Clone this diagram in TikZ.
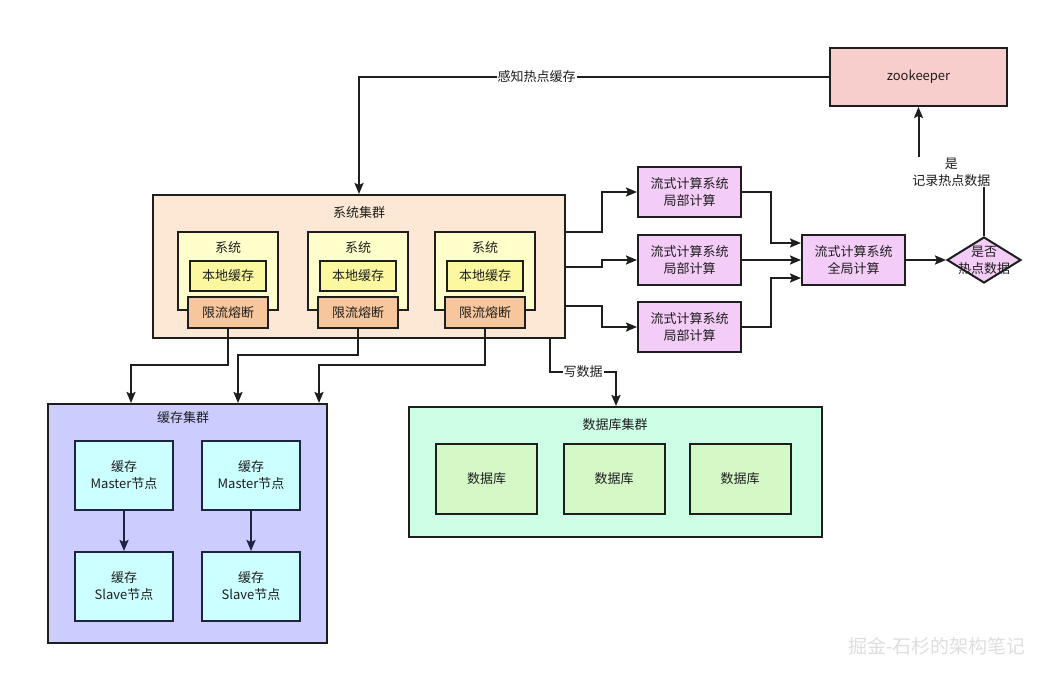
\documentclass[tikz,border=0pt]{standalone}
\usepackage{fontspec}
\setmainfont{Noto Sans CJK SC}
\usetikzlibrary{arrows.meta,shapes.geometric,calc}
\definecolor{ink}{HTML}{1E1E1E}
\definecolor{zkfill}{HTML}{F8CECC}
\definecolor{sysclfill}{HTML}{FCE8D5}
\definecolor{sysfill}{HTML}{FFFFCC}
\definecolor{lcfill}{HTML}{FBF8A0}
\definecolor{limfill}{HTML}{F7C69C}
\definecolor{strfill}{HTML}{F4CCF8}
\definecolor{cclfill}{HTML}{CCCCFF}
\definecolor{cnfill}{HTML}{CCFFFF}
\definecolor{dbclfill}{HTML}{CCFFE6}
\definecolor{dbfill}{HTML}{D4F8C6}
\definecolor{navy}{HTML}{1C2440}
\begin{document}
\begin{tikzpicture}[x=1pt,y=-1pt,
  every node/.style={text=ink,font=\fontsize{13}{17}\selectfont},
  box/.style={draw=ink,line width=2pt,rectangle,inner sep=0pt,align=center},
  lbl/.style={fill=white,inner sep=1pt,align=center},
  arr/.style={draw=ink,line width=2pt,-{Stealth[length=11pt,width=9pt,inset=2pt]}}]
\useasboundingbox (0,0) rectangle (1053,674);
\fill[white] (0,0) rectangle (1053,674);

% zookeeper
\node[box,fill=zkfill,minimum width=177pt,minimum height=58pt] (zk) at (918.5,77) {zookeeper};

% system cluster
\node[box,fill=sysclfill,minimum width=412pt,minimum height=143pt] (syscl) at (359,266.5) {};
\node (syscltitle) at (359,213) {系统集群};
\foreach \i/\x in {1/228,2/358,3/485}{
  \node[box,fill=sysfill,minimum width=100pt,minimum height=78pt] (sys\i) at (\x,271) {};
  \node (systitle\i) at (\x,248) {系统};
  \node[box,fill=lcfill,minimum width=76pt,minimum height=30pt] (lc\i) at (\x,276) {本地缓存};
  \node[box,fill=limfill,minimum width=80pt,minimum height=31pt] (lim\i) at (\x,312.5) {限流熔断};
}

% stream computing
\node[box,fill=strfill,minimum width=103pt,minimum height=50pt] (loc1) at (689.5,192) {流式计算系统\\局部计算};
\node[box,fill=strfill,minimum width=103pt,minimum height=50pt] (loc2) at (689.5,260) {流式计算系统\\局部计算};
\node[box,fill=strfill,minimum width=103pt,minimum height=50pt] (loc3) at (689.5,327) {流式计算系统\\局部计算};
\node[box,fill=strfill,minimum width=103pt,minimum height=50pt] (glob) at (853.5,260) {流式计算系统\\全局计算};
\node[draw=ink,line width=2pt,diamond,aspect=1.6,fill=strfill,inner sep=0pt,minimum width=74pt,minimum height=46pt,align=center] (dia) at (984,260) {};
\node[align=center] (diatext) at (984,260) {是否\\热点数据};

% cache cluster
\node[box,fill=cclfill,minimum width=279pt,minimum height=239pt] (ccl) at (187.5,523.5) {};
\node (ccltitle) at (183,418) {缓存集群};
\node[box,draw=navy,fill=cnfill,minimum width=98pt,minimum height=69pt] (m1) at (124,475.5) {缓存\\Master节点};
\node[box,draw=navy,fill=cnfill,minimum width=98pt,minimum height=69pt] (m2) at (251,475.5) {缓存\\Master节点};
\node[box,draw=navy,fill=cnfill,minimum width=98pt,minimum height=69pt] (s1) at (124,586.5) {缓存\\Slave节点};
\node[box,draw=navy,fill=cnfill,minimum width=98pt,minimum height=69pt] (s2) at (251,586.5) {缓存\\Slave节点};

% database cluster
\node[box,fill=dbclfill,minimum width=413pt,minimum height=130pt] (dbcl) at (615.5,472) {};
\node (dbcltitle) at (615,425) {数据库集群};
\node[box,fill=dbfill,minimum width=101pt,minimum height=70pt] (db1) at (486.5,479) {数据库};
\node[box,fill=dbfill,minimum width=101pt,minimum height=70pt] (db2) at (614,479) {数据库};
\node[box,fill=dbfill,minimum width=101pt,minimum height=70pt] (db3) at (740,479) {数据库};

% connectors
\draw[arr] (zk.west) -| node[lbl,pos=0.311]{感知热点缓存} (syscl.north);

\draw[arr] (syscl.east |- 0,232) -- (602,232) |- (loc1);
\draw[arr] (syscl.east |- 0,267) -- (602,267) |- (loc2);
\draw[arr] (syscl.east |- 0,306) -- (602,306) |- (loc3);

\draw[arr] (loc1.east) -| (771,243) -- (glob.west |- 0,243);
\draw[arr] (loc2) -- (glob);
\draw[arr] (loc3.east) -| (771,278) -- (glob.west |- 0,278);
\draw[arr] (glob) -- (dia);
\draw[arr] (dia.north) -- (984,172) -- node[lbl]{是\\记录热点数据} (zk.south |- 0,172) -- (zk.south);

\draw[arr] (lim1.south) |- (131,365) -- (ccl.north -| 131,0);
\draw[arr] (lim2.south) |- (238,355) -- (ccl.north -| 238,0);
\draw[arr] (lim3.south) |- (319,365) -- (ccl.north -| 319,0);

\draw[arr] (syscl.south -| 550,0) |- node[lbl,pos=0.75]{写数据} (616,372) -- (dbcl.north -| 616,0);

\draw[arr,draw=navy] (m1) -- (s1);
\draw[arr,draw=navy] (m2) -- (s2);

% watermark
\node[text=black!13,font=\fontsize{19}{19}\selectfont] (wm) at (937,646) {掘金-石杉的架构笔记};
\end{tikzpicture}
\end{document}
